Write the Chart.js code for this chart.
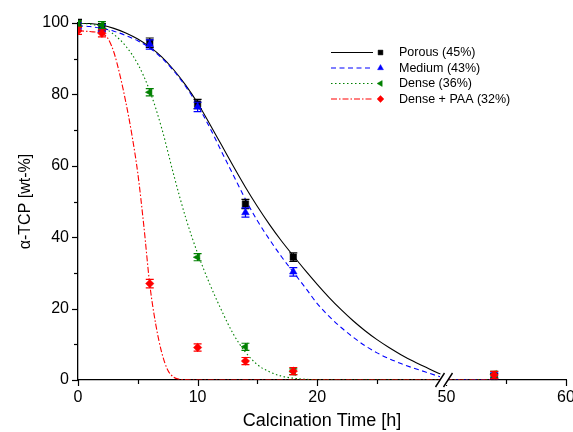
<!DOCTYPE html>
<html><head><meta charset="utf-8">
<script src="https://cdn.jsdelivr.net/npm/chart.js@4.4.1/dist/chart.umd.min.js"></script>
<style>html,body{margin:0;padding:0;background:#fff}#wrap{width:573px;height:432px;position:relative}</style>
</head><body><div id="wrap"><canvas id="c" width="573" height="432"></canvas></div>
<script>
// ---------- data ----------
const seriesNames = ['Porous (45%)', 'Medium (43%)', 'Dense (36%)', 'Dense + PAA (32%)'];
const sampleTimes = [0, 2, 6, 10, 14, 18, 54];
const porousValues = [100, 98.8, 94.5, 77.3, 49.3, 34.4, 1.0];
const porousErrors = [1.0, 1.0, 1.3, 1.3, 1.3, 1.2, 0.8];
const mediumValues = [99.0, 98.5, 94.0, 76.5, 46.9, 30.3, 1.2];
const mediumErrors = [1.0, 1.0, 1.3, 1.3, 1.3, 1.2, 0.8];
const denseValues = [99.8, 99.4, 80.6, 34.4, 9.3, 2.3, 1.6];
const denseErrors = [0.8, 1.0, 1.0, 1.0, 1.0, 0.8, 0.8];
const paaValues = [97.8, 97.1, 27.0, 9.1, 5.3, 2.5, 1.4];
const paaErrors = [1.0, 1.0, 1.2, 1.0, 1.0, 1.0, 1.0];

// fitted curves
const porousFitTimes = [0,1,2,3,4,5,6,7,8,9,10,11,12,13,14,15,16,17,18,19,20,21,22,23,24,25,26,27,28,29,30,30.3,30.5,50,54];
const porousFitValues = [100,99.85,99.4,98.5,97.2,95.5,93.3,90.5,86.9,82.6,77.6,71.8,65.8,59.8,54.0,48.6,43.6,39.0,34.8,30.7,26.8,23.1,19.7,16.6,13.8,11.3,9.1,7.1,5.3,3.7,2.1,1.7,null,0,0];
const mediumFitTimes = [0,1,2,3,4,5,6,7,8,9,10,11,12,13,14,15,16,17,18,19,20,21,22,23,24,25,26,27,28,29,30,30.3,30.5,50,54];
const mediumFitValues = [99.2,99.0,98.5,97.7,96.5,95.0,93.0,90.2,86.6,82.2,77.0,70.8,64.0,57.3,50.6,44.6,39.4,34.6,30.2,25.9,21.4,17.8,14.7,12.0,9.6,7.6,6.0,4.6,3.4,2.3,1.2,0.9,null,0,0];
const denseFitTimes = [0,1,2,3,4,5,6,7,8,9,10,11,12,13,14,15,16,17,18,19,20,22,25,30,30.3,30.5,50,54];
const denseFitValues = [99.9,99.7,98.9,96.8,93.5,88.5,81.0,70.5,57.5,45.5,35.5,27.0,19.5,12.8,7.8,4.3,2.3,1.1,0.5,0.2,0.1,0,0,0,0,null,0,0];
const paaFitTimes = [0,1,2,2.5,3,3.5,4,4.5,5,5.5,6,6.5,7,7.5,8,8.5,9,10,15,20,25,30,30.3,30.5,50,54];
const paaFitValues = [97.8,97.6,97.0,95.7,91.8,85.5,77.8,68.8,57.9,43.3,26.8,15.6,7.7,2.8,0.8,0.2,0.05,0,0,0,0,0,0,null,0,0];

// axis ticks
const xTickValues = [0, 5, 10, 15, 20, 25, 50, 55, 60];
const xTickLabels = ['0', '', '10', '', '20', '', '50', '', '60'];
const yTickValues = [0, 10, 20, 30, 40, 50, 60, 70, 80, 90, 100];
const yTickLabels = ['0', '', '20', '', '40', '', '60', '', '80', '', '100'];

// ---------- axis break transform ----------
const BREAK_SHIFT = 19.2;           // hours removed between 30.8 and 50
const BREAK_AT = 30.6;              // axis value where the break marks sit
function toAxis(t) { return t > 40 ? t - BREAK_SHIFT : t; }
function pts(ts, vs) { return ts.map((t, i) => ({x: toAxis(t), y: vs[i]})); }

const FONT = "'Liberation Sans', Arial, Helvetica, sans-serif";
const colors = ['#000000', '#0000ff', '#008000', '#ff0000'];
const dashes = [[], [5, 3.5], [1.5, 2.5], [6, 2, 1.5, 2]];
const styles = [
  {pointStyle: 'rect', rotation: 0, radius: 4.6},
  {pointStyle: 'triangle', rotation: 0, radius: 4.4},
  {pointStyle: 'triangle', rotation: -90, radius: 4.4},
  {pointStyle: 'rectRot', rotation: 0, radius: 4.2}
];
const valueSets = [porousValues, mediumValues, denseValues, paaValues];
const errorSets = [porousErrors, mediumErrors, denseErrors, paaErrors];
const fitSets = [[porousFitTimes, porousFitValues], [mediumFitTimes, mediumFitValues], [denseFitTimes, denseFitValues], [paaFitTimes, paaFitValues]];

const datasets = [];
for (let s = 0; s < 4; s++) {
  datasets.push({
    type: 'scatter', label: seriesNames[s], data: pts(sampleTimes, valueSets[s]), errors: errorSets[s],
    isPoints: true, showLine: false, order: 3 - s,
    pointStyle: styles[s].pointStyle, rotation: styles[s].rotation, pointRadius: styles[s].radius,
    backgroundColor: colors[s], borderColor: colors[s], borderWidth: 0.5,
    clip: {left: 0, top: false, right: false, bottom: false}
  });
}
for (let s = 0; s < 4; s++) {
  datasets.push({
    type: 'line', label: seriesNames[s] + ' fit', data: pts(fitSets[s][0], fitSets[s][1]),
    borderColor: colors[s], borderWidth: 1.1, borderDash: dashes[s], pointRadius: 0,
    fill: false, spanGaps: false, cubicInterpolationMode: 'monotone', order: 7 - s
  });
}

function marker(ctx, style, x, y, r, color) {
  ctx.save();
  ctx.fillStyle = color; ctx.strokeStyle = color; ctx.lineWidth = 0.5;
  if (Chart.helpers && Chart.helpers.drawPoint) {
    Chart.helpers.drawPoint(ctx, {pointStyle: style.pointStyle, rotation: style.rotation, radius: r, borderWidth: 0.5}, x, y);
  }
  ctx.restore();
}

const errorBars = {
  id: 'errorBars',
  beforeDatasetDraw(chart, args) {
    const ds = chart.data.datasets[args.index];
    if (!ds.isPoints) return;
    const {ctx, chartArea} = chart;
    const yS = chart.scales.y;
    ctx.save();
    ctx.beginPath();
    ctx.rect(chartArea.left, 0, chart.width, chart.height);
    ctx.clip();
    ctx.strokeStyle = ds.borderColor;
    ctx.lineWidth = 1.2;
    args.meta.data.forEach((el, i) => {
      const v = ds.data[i].y;
      const e = ds.errors[i];
      const yt = yS.getPixelForValue(v + e), yb = yS.getPixelForValue(v - e);
      const x = el.x;
      ctx.beginPath();
      ctx.moveTo(x, yt); ctx.lineTo(x, yb);
      ctx.moveTo(x - 4, yt); ctx.lineTo(x + 4, yt);
      ctx.moveTo(x - 4, yb); ctx.lineTo(x + 4, yb);
      ctx.stroke();
    });
    ctx.restore();
  }
};

const axisDecor = {
  id: 'axisDecor',
  afterDatasetsDraw(chart) {
    const {ctx, chartArea} = chart;
    const xS = chart.scales.x, yS = chart.scales.y;
    ctx.save();
    ctx.strokeStyle = '#000';
    ctx.lineWidth = 1.2;
    xS.ticks.forEach((tk, i) => {
      const px = Math.round(xS.getPixelForValue(tk.value)) + 0.5;
      const len = xTickLabels[i] ? 6 : 4;
      ctx.beginPath(); ctx.moveTo(px, chartArea.bottom); ctx.lineTo(px, chartArea.bottom + len); ctx.stroke();
    });
    yS.ticks.forEach((tk) => {
      const py = Math.round(yS.getPixelForValue(tk.value)) + 0.5;
      const idx = yTickValues.indexOf(tk.value);
      const len = (idx >= 0 && yTickLabels[idx]) ? 6 : 4;
      ctx.beginPath(); ctx.moveTo(chartArea.left - len, py); ctx.lineTo(chartArea.left, py); ctx.stroke();
    });
    // axis break
    const c = xS.getPixelForValue(BREAK_AT);
    const b = chartArea.bottom;
    ctx.fillStyle = '#fff';
    ctx.fillRect(c - 4, b - 5, 8, 10);
    ctx.lineWidth = 1.4;
    ctx.beginPath();
    ctx.moveTo(c - 8.5, b + 7); ctx.lineTo(c + 0.5, b - 7);
    ctx.moveTo(c - 0.5, b + 7); ctx.lineTo(c + 8.5, b - 7);
    ctx.stroke();
    ctx.restore();
  }
};

const legendBox = {
  id: 'legendBox',
  afterDraw(chart) {
    const ctx = chart.ctx;
    const rows = [52.5, 68, 83.5, 99];
    ctx.save();
    for (let s = 0; s < 4; s++) {
      const y = rows[s];
      ctx.strokeStyle = colors[s]; ctx.lineWidth = 1.1; ctx.setLineDash(dashes[s]);
      ctx.beginPath(); ctx.moveTo(331, y); ctx.lineTo(373, y); ctx.stroke();
      ctx.setLineDash([]);
      marker(ctx, styles[s], 380.5, y, 3.4, colors[s]);
      ctx.fillStyle = '#000';
      ctx.font = '12.5px ' + FONT;
      ctx.textBaseline = 'middle'; ctx.textAlign = 'left';
      ctx.fillText(seriesNames[s], 399, y + 0.5);
    }
    ctx.restore();
  }
};

new Chart(document.getElementById('c'), {
  data: {datasets},
  options: {
    responsive: false, animation: false, devicePixelRatio: 1,
    layout: {padding: {top: 23, right: 7, left: 0, bottom: 0}},
    plugins: {legend: {display: false}, tooltip: {enabled: false}},
    scales: {
      x: {
        type: 'linear', min: 0, max: toAxis(60),
        afterBuildTicks: (s) => { s.ticks = xTickValues.map(t => ({value: toAxis(t)})); },
        afterFit: (s) => { s.height = 52; s.paddingLeft = 0; s.paddingRight = 0; },
        grid: {display: false, drawTicks: false, tickLength: 0},
        border: {display: true, color: '#000', width: 1.3},
        ticks: {autoSkip: false, maxRotation: 0, minRotation: 0, padding: 8, color: '#000',
                font: {family: FONT, size: 16},
                callback: (v, i) => xTickLabels[i]},
        title: {display: true, text: 'Calcination Time [h]', color: '#000',
                font: {family: FONT, size: 18}, padding: {top: 0, bottom: 0}}
      },
      y: {
        type: 'linear', min: 0, max: 100,
        afterBuildTicks: (s) => { s.ticks = yTickValues.map(v => ({value: v})); },
        afterFit: (s) => { s.width = 78; s.paddingTop = 0; s.paddingBottom = 0; },
        grid: {display: false, drawTicks: false, tickLength: 0},
        border: {display: true, color: '#000', width: 1.3},
        ticks: {autoSkip: false, padding: 9, color: '#000', font: {family: FONT, size: 16},
                callback: (v, i) => yTickLabels[i]},
        title: {display: true, text: 'α-TCP [wt-%]', color: '#000',
                font: {family: FONT, size: 16}, padding: {top: 16, bottom: 0}}
      }
    }
  },
  plugins: [errorBars, axisDecor, legendBox]
});
</script></body></html>
